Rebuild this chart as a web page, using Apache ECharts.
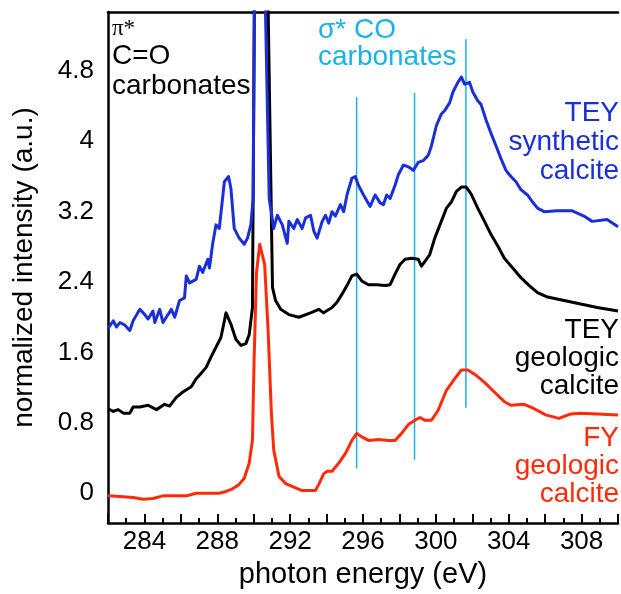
<!DOCTYPE html>
<html>
<head>
<meta charset="utf-8">
<script src="https://cdn.jsdelivr.net/npm/echarts@6/dist/echarts.min.js"></script>
<style>
  html, body { margin: 0; padding: 0; background: #fff; }
  #chart { width: 621px; height: 594px; }
</style>
</head>
<body>
<div id="chart"></div>
<script>
// spectra: [photon energy (eV), normalized intensity]
var teySynthetic = [
    [282.0, 1.87], [282.29, 1.96], [282.47, 1.89], [282.65, 1.94], [282.93, 1.91], [283.2, 1.85],
    [283.38, 1.96], [283.75, 2.09], [284.02, 2.03], [284.2, 1.98], [284.47, 2.07], [284.57, 1.94],
    [284.84, 2.09], [285.02, 1.94], [285.2, 2.0], [285.48, 2.09], [285.66, 2.0], [285.93, 2.19],
    [286.2, 2.22], [286.3, 2.47], [286.48, 2.39], [286.84, 2.43], [287.02, 2.58], [287.2, 2.51],
    [287.48, 2.66], [287.57, 2.56], [287.75, 2.84], [287.93, 3.05], [288.11, 3.01], [288.39, 3.54],
    [288.62, 3.60], [288.75, 3.46], [288.93, 3.01], [289.2, 2.90], [289.48, 2.83], [289.66, 2.90],
    [289.84, 3.05], [289.97, 3.35], [290.08, 7.0], [290.3, 8.0], [290.5, 7.0], [290.85, 3.35],
    [291.1, 3.01], [291.3, 3.16], [291.57, 3.05], [291.84, 2.84], [291.93, 3.09], [292.2, 3.01],
    [292.39, 3.11], [292.66, 3.01], [292.85, 3.13], [293.12, 3.16], [293.3, 2.98], [293.48, 2.90],
    [293.76, 3.09], [293.94, 3.16], [294.12, 3.07], [294.3, 3.20], [294.48, 3.15], [294.76, 3.28],
    [294.94, 3.20], [295.12, 3.39], [295.39, 3.58], [295.57, 3.60], [295.75, 3.50], [296.03, 3.39],
    [296.39, 3.26], [296.67, 3.39], [296.94, 3.30], [297.12, 3.28], [297.3, 3.39], [297.49, 3.35],
    [297.76, 3.50], [297.94, 3.62], [298.22, 3.73], [298.49, 3.71], [298.76, 3.67], [299.03, 3.76],
    [299.3, 3.78], [299.58, 3.84], [299.76, 3.95], [300.03, 4.18], [300.3, 4.31], [300.49, 4.35],
    [300.76, 4.44], [300.94, 4.56], [301.21, 4.67], [301.4, 4.73], [301.58, 4.65], [301.85, 4.67],
    [302.03, 4.56], [302.3, 4.46], [302.48, 4.42], [302.76, 4.24], [303.03, 4.09], [303.3, 3.95],
    [303.58, 3.80], [303.85, 3.67], [304.12, 3.60], [304.4, 3.54], [304.67, 3.45], [305.03, 3.39],
    [305.31, 3.31], [305.58, 3.24], [305.94, 3.20], [306.67, 3.21], [307.49, 3.21], [308.13, 3.15],
    [308.58, 3.09], [309.4, 3.11], [310.0, 3.03]
];
var teyGeologic = [
    [282.0, 0.96], [282.29, 0.93], [282.56, 0.95], [282.84, 0.91], [283.2, 0.91], [283.38, 0.98],
    [283.75, 0.98], [284.2, 1.00], [284.66, 0.95], [285.11, 1.01], [285.38, 0.99], [285.75, 1.09],
    [286.11, 1.15], [286.57, 1.21], [286.84, 1.30], [287.02, 1.34], [287.39, 1.43], [287.66, 1.55],
    [287.93, 1.66], [288.2, 1.77], [288.48, 2.05], [288.75, 1.92], [289.02, 1.75], [289.3, 1.68],
    [289.57, 1.70], [289.75, 1.80], [289.93, 2.11], [290.08, 7.0], [290.4, 7.6], [290.68, 7.0],
    [291.03, 2.34], [291.2, 2.19], [291.48, 2.09], [291.93, 2.03], [292.48, 2.0], [293.12, 2.05],
    [293.57, 2.09], [293.84, 2.05], [294.3, 2.11], [294.57, 2.17], [294.84, 2.26], [295.12, 2.36],
    [295.39, 2.47], [295.66, 2.49], [295.94, 2.41], [296.3, 2.37], [296.76, 2.37], [297.21, 2.36],
    [297.49, 2.37], [297.76, 2.49], [298.03, 2.60], [298.31, 2.66], [298.67, 2.67], [299.03, 2.66],
    [299.21, 2.58], [299.66, 2.71], [299.94, 2.90], [300.3, 3.09], [300.58, 3.24], [300.85, 3.31],
    [301.13, 3.43], [301.4, 3.48], [301.67, 3.48], [301.94, 3.40], [302.3, 3.24], [302.67, 3.09],
    [303.03, 2.94], [303.4, 2.81], [303.76, 2.67], [304.22, 2.56], [304.67, 2.45], [305.13, 2.36],
    [305.58, 2.28], [306.13, 2.23], [307.04, 2.19], [307.95, 2.15], [308.86, 2.11], [310.0, 2.07]
];
var fyGeologic = [
    [282.0, -0.03], [282.84, -0.04], [283.38, -0.05], [283.93, -0.07], [284.47, -0.06], [285.02, -0.03],
    [285.57, -0.03], [286.3, -0.03], [286.84, 0.0], [287.57, 0.0], [288.11, 0.0], [288.48, 0.02],
    [288.84, 0.05], [289.2, 0.10], [289.48, 0.17], [289.75, 0.34], [289.93, 0.6], [290.02, 1.5],
    [290.15, 2.5], [290.33, 2.83], [290.6, 2.6], [290.79, 1.85], [290.97, 0.91], [291.1, 0.49],
    [291.39, 0.19], [291.75, 0.11], [292.3, 0.06], [292.66, 0.03], [293.39, 0.03], [293.57, 0.10],
    [293.84, 0.22], [294.03, 0.25], [294.3, 0.25], [294.66, 0.34], [295.03, 0.45], [295.39, 0.60],
    [295.66, 0.68], [295.94, 0.64], [296.3, 0.60], [296.85, 0.61], [297.39, 0.60], [297.76, 0.60],
    [298.12, 0.68], [298.49, 0.78], [298.85, 0.83], [299.12, 0.86], [299.39, 0.83], [299.76, 0.83],
    [300.12, 0.94], [300.58, 1.17], [301.03, 1.30], [301.4, 1.40], [301.76, 1.40], [302.21, 1.34],
    [302.67, 1.26], [303.21, 1.15], [303.76, 1.04], [304.12, 1.00], [304.85, 1.01], [305.4, 0.96],
    [306.03, 0.89], [306.76, 0.85], [307.39, 0.90], [307.94, 0.91], [308.85, 0.90], [310.0, 0.89]
];

// sigma* CO marker lines
var markerEnergy = [295.65, 298.83, 301.65];
var markerLow = [0.28, 0.38, 0.97];
var markerHigh = [4.50, 4.55, 5.16];

var yTicks = [0, 0.8, 1.6, 2.4, 3.2, 4, 4.8];

var FONT = 'Liberation Sans, Arial, Helvetica, sans-serif';
var BLUE = '#1a2fd8';
var RED = '#ff2a0a';
var CYAN = '#18b4e6';

var myChart = echarts.init(document.getElementById('chart'));

function spectrum(name, data, color, z) {
    return {
        name: name,
        type: 'line',
        data: data,
        symbol: 'none',
        z: z,
        lineStyle: { width: 3, color: color, join: 'round' }
    };
}

var series = [
    spectrum('TEY geologic calcite', teyGeologic, '#000', 3),
    spectrum('TEY synthetic calcite', teySynthetic, BLUE, 4),
    spectrum('FY geologic calcite', fyGeologic, RED, 5)
];

markerEnergy.forEach(function (e, i) {
    series.push({
        type: 'line',
        data: [[e, markerLow[i]], [e, markerHigh[i]]],
        symbol: 'none',
        lineStyle: { width: 1.5, color: CYAN },
        z: 2
    });
});

function label(x, y, text, color, align, size, lh, family) {
    return {
        type: 'text',
        x: x,
        y: y,
        style: {
            text: text,
            align: align,
            verticalAlign: 'top',
            fontSize: size,
            lineHeight: lh,
            fontFamily: family || FONT,
            fill: color
        }
    };
}

var option = {
    animation: false,
    backgroundColor: '#fff',
    grid: { left: 108, right: 0, top: 12, bottom: 67 },
    xAxis: [
        {
            type: 'value',
            min: 282,
            max: 310,
            interval: 2,
            name: 'photon energy (eV)',
            nameLocation: 'middle',
            nameGap: 33,
            nameTextStyle: { fontSize: 29, color: '#000', fontFamily: FONT },
            axisLine: { onZero: false, lineStyle: { color: '#000', width: 2.5 } },
            axisTick: { inside: true, length: 9, lineStyle: { color: '#000', width: 2 } },
            minorTick: { show: true, splitNumber: 2, length: 5, lineStyle: { color: '#000', width: 2 } },
            splitLine: { show: false },
            axisLabel: {
                fontSize: 26,
                color: '#000',
                fontFamily: FONT,
                margin: 6,
                formatter: function (v) { return v % 4 === 0 ? String(v) : ''; }
            }
        },
        {
            type: 'value',
            position: 'top',
            min: 282,
            max: 310,
            axisLine: { show: true, onZero: false, lineStyle: { color: '#000', width: 2.5 } },
            axisTick: { show: false },
            axisLabel: { show: false },
            splitLine: { show: false }
        }
    ],
    yAxis: {
        type: 'value',
        min: -0.34,
        max: 5.47,
        name: 'normalized intensity (a.u.)',
        nameLocation: 'middle',
        nameGap: 70,
        nameTextStyle: { fontSize: 28, color: '#000', fontFamily: FONT },
        axisLine: { show: true, onZero: false, lineStyle: { color: '#000', width: 2.5 } },
        axisTick: { show: false },
        splitLine: { show: false },
        axisLabel: {
            customValues: yTicks,
            fontSize: 26,
            color: '#000',
            fontFamily: FONT,
            margin: 14,
            formatter: function (v) { return String(+v.toFixed(1)); }
        }
    },
    graphic: [
        label(112, 17, 'π*', '#000', 'left', 23, 23, 'Liberation Serif, serif'),
        label(112, 41, 'C=O\ncarbonates', '#000', 'left', 28, 30),
        label(318, 17, 'σ* CO\ncarbonates', CYAN, 'left', 28, 27),
        label(619, 99, 'TEY\nsynthetic\ncalcite', BLUE, 'right', 28, 29),
        label(619, 316, 'TEY\ngeologic\ncalcite', '#000', 'right', 28, 28),
        label(619, 424, 'FY\ngeologic\ncalcite', RED, 'right', 28, 28)
    ],
    series: series
};

myChart.setOption(option);
</script>
</body>
</html>
